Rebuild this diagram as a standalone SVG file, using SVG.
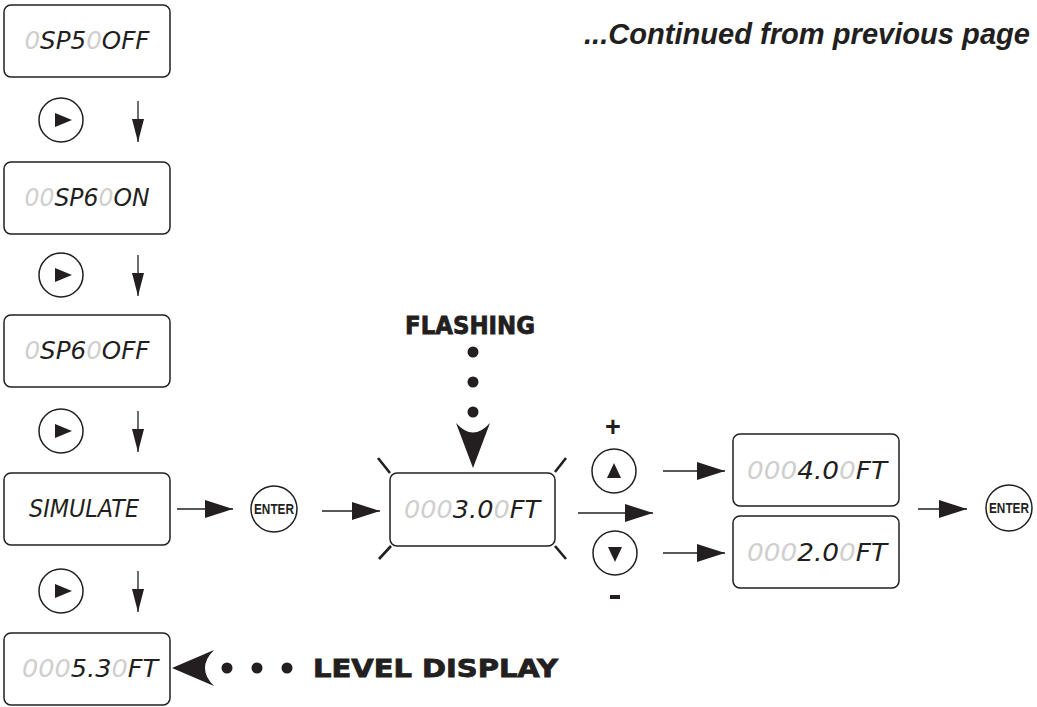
<svg xmlns="http://www.w3.org/2000/svg" width="1037" height="707" viewBox="0 0 1037 707">
<defs>
<style>
.box{fill:#fff;stroke:#231f20;stroke-width:1.5}
.btn{fill:#fff;stroke:#231f20;stroke-width:1.5}
.seg{font-family:"Liberation Sans Narrow","DejaVu Sans Condensed","Liberation Sans",sans-serif;font-style:italic;font-size:24px;fill:#231f20;text-anchor:middle}
.dim{fill:#cfcfcf}
.ent{font-family:"Liberation Sans",Arial,sans-serif;font-weight:bold;font-size:14px;fill:#231f20;text-anchor:middle}
.big{font-family:"DejaVu Sans",sans-serif;font-weight:bold;font-size:24px;fill:#231f20;stroke:#231f20;stroke-width:0.8}
.ln{stroke:#231f20;stroke-width:1.3;fill:none}
.ray{stroke:#231f20;stroke-width:2.6;fill:none}
.fill{fill:#231f20}
</style>
<marker id="ah" markerUnits="userSpaceOnUse" markerWidth="28" markerHeight="18" refX="28" refY="9" orient="auto">
<path d="M0,0 L28,9 L0,18 Z" fill="#231f20"/>
</marker>
<marker id="ahs" markerUnits="userSpaceOnUse" markerWidth="12" markerHeight="23" refX="6" refY="23" orient="0">
<path d="M0,0 L12,0 L6,23 Z" fill="#231f20"/>
</marker>
</defs>
<rect width="1037" height="707" fill="#fff"/>

<text x="584" y="44" font-family="Liberation Sans,Arial,sans-serif" font-weight="bold" font-style="italic" font-size="29" fill="#231f20" textLength="446" lengthAdjust="spacingAndGlyphs">...Continued from previous page</text>

<g id="box1"><rect class="box" x="4" y="5" width="166" height="72" rx="7"/>
<text class="seg" x="87" y="49" textLength="125" lengthAdjust="spacingAndGlyphs"><tspan class="dim">0</tspan>SP5<tspan class="dim">0</tspan>OFF</text></g>
<g id="box2"><rect class="box" x="4" y="162" width="166" height="72" rx="7"/>
<text class="seg" x="87" y="206" textLength="125" lengthAdjust="spacingAndGlyphs"><tspan class="dim">00</tspan>SP6<tspan class="dim">0</tspan>ON</text></g>
<g id="box3"><rect class="box" x="4" y="315" width="166" height="72" rx="7"/>
<text class="seg" x="87" y="359" textLength="125" lengthAdjust="spacingAndGlyphs"><tspan class="dim">0</tspan>SP6<tspan class="dim">0</tspan>OFF</text></g>
<g id="box4"><rect class="box" x="4" y="473" width="166" height="72" rx="7"/>
<text class="seg" x="84" y="517" textLength="110" lengthAdjust="spacingAndGlyphs">SIMULATE</text></g>
<g id="box5"><rect class="box" x="4" y="633" width="166" height="72" rx="7"/>
<text class="seg" x="90" y="677" textLength="136" lengthAdjust="spacingAndGlyphs"><tspan class="dim">000</tspan>5.3<tspan class="dim">0</tspan>FT</text></g>

<g id="play1"><circle class="btn" cx="61" cy="120" r="22"/><path class="fill" d="M55,113 L55,127 L72,120 Z"/></g>
<g id="play2"><circle class="btn" cx="61" cy="275" r="22"/><path class="fill" d="M55,268 L55,282 L72,275 Z"/></g>
<g id="play3"><circle class="btn" cx="61" cy="431" r="22"/><path class="fill" d="M55,424 L55,438 L72,431 Z"/></g>
<g id="play4"><circle class="btn" cx="61" cy="591" r="22"/><path class="fill" d="M55,584 L55,598 L72,591 Z"/></g>

<g id="enter1"><circle class="btn" cx="274" cy="509" r="23"/><text class="ent" x="274" y="514" textLength="40" lengthAdjust="spacingAndGlyphs">ENTER</text></g>

<g id="display-center">
<rect class="box" x="390" y="473" width="165" height="73" rx="7"/>
<text class="seg" x="472" y="518" textLength="136" lengthAdjust="spacingAndGlyphs"><tspan class="dim">000</tspan>3.0<tspan class="dim">0</tspan>FT</text>
<line class="ray" x1="378" y1="458" x2="390" y2="473"/>
<line class="ray" x1="391" y1="546" x2="379" y2="559"/>
<line class="ray" x1="555" y1="472" x2="566" y2="458"/>
<line class="ray" x1="555" y1="546" x2="566" y2="559"/>
</g>

<g id="flashing">
<text class="big" x="470" y="334" text-anchor="middle" textLength="130" lengthAdjust="spacingAndGlyphs">FLASHING</text>
<circle class="fill" cx="473" cy="352" r="5.5"/>
<circle class="fill" cx="473" cy="382" r="5.5"/>
<circle class="fill" cx="473" cy="412" r="5.5"/>
<path class="fill" d="M473,468 L456,423 Q473,442 490,423 Z"/>
</g>

<g id="up"><text x="613" y="436" font-family="Liberation Sans,Arial,sans-serif" font-weight="bold" font-size="27" fill="#231f20" text-anchor="middle">+</text>
<circle class="btn" cx="614" cy="471" r="22"/><path class="fill" d="M614,463 L607,478 L621,478 Z"/></g>
<g id="down"><circle class="btn" cx="615" cy="553" r="22"/><path class="fill" d="M608,547 L622,547 L615,562 Z"/>
<rect class="fill" x="610" y="595" width="10" height="4"/></g>

<g id="display-up"><rect class="box" x="733" y="434" width="166" height="72" rx="7"/>
<text class="seg" x="817" y="479" textLength="140" lengthAdjust="spacingAndGlyphs"><tspan class="dim">000</tspan>4.0<tspan class="dim">0</tspan>FT</text></g>
<g id="display-down"><rect class="box" x="733" y="516" width="166" height="72" rx="7"/>
<text class="seg" x="817" y="561" textLength="140" lengthAdjust="spacingAndGlyphs"><tspan class="dim">000</tspan>2.0<tspan class="dim">0</tspan>FT</text></g>

<g id="enter2"><circle class="btn" cx="1009" cy="508" r="23"/><text class="ent" x="1009" y="513" textLength="40" lengthAdjust="spacingAndGlyphs">ENTER</text></g>

<g id="level">
<path class="fill" d="M172,668 L214,650 Q196,668 214,686 Z"/>
<circle class="fill" cx="227" cy="668" r="5.5"/>
<circle class="fill" cx="257" cy="668" r="5.5"/>
<circle class="fill" cx="287" cy="668" r="5.5"/>
<text class="big" x="313" y="677" font-size="26" textLength="245" lengthAdjust="spacingAndGlyphs">LEVEL DISPLAY</text>
</g>

<g id="connectors">
<line class="ln" x1="138" y1="101" x2="138" y2="142" marker-end="url(#ahs)"/>
<line class="ln" x1="138" y1="255" x2="138" y2="296" marker-end="url(#ahs)"/>
<line class="ln" x1="138" y1="411" x2="138" y2="452" marker-end="url(#ahs)"/>
<line class="ln" x1="138" y1="571" x2="138" y2="612" marker-end="url(#ahs)"/>
<line class="ln" x1="177" y1="509" x2="233" y2="509" marker-end="url(#ah)"/>
<line class="ln" x1="322" y1="511" x2="380" y2="511" marker-end="url(#ah)"/>
<line class="ln" x1="578" y1="513" x2="653" y2="513" marker-end="url(#ah)"/>
<line class="ln" x1="663" y1="471" x2="725" y2="471" marker-end="url(#ah)"/>
<line class="ln" x1="663" y1="553" x2="725" y2="553" marker-end="url(#ah)"/>
<line class="ln" x1="918" y1="509" x2="967" y2="509" marker-end="url(#ah)"/>
</g>
</svg>
